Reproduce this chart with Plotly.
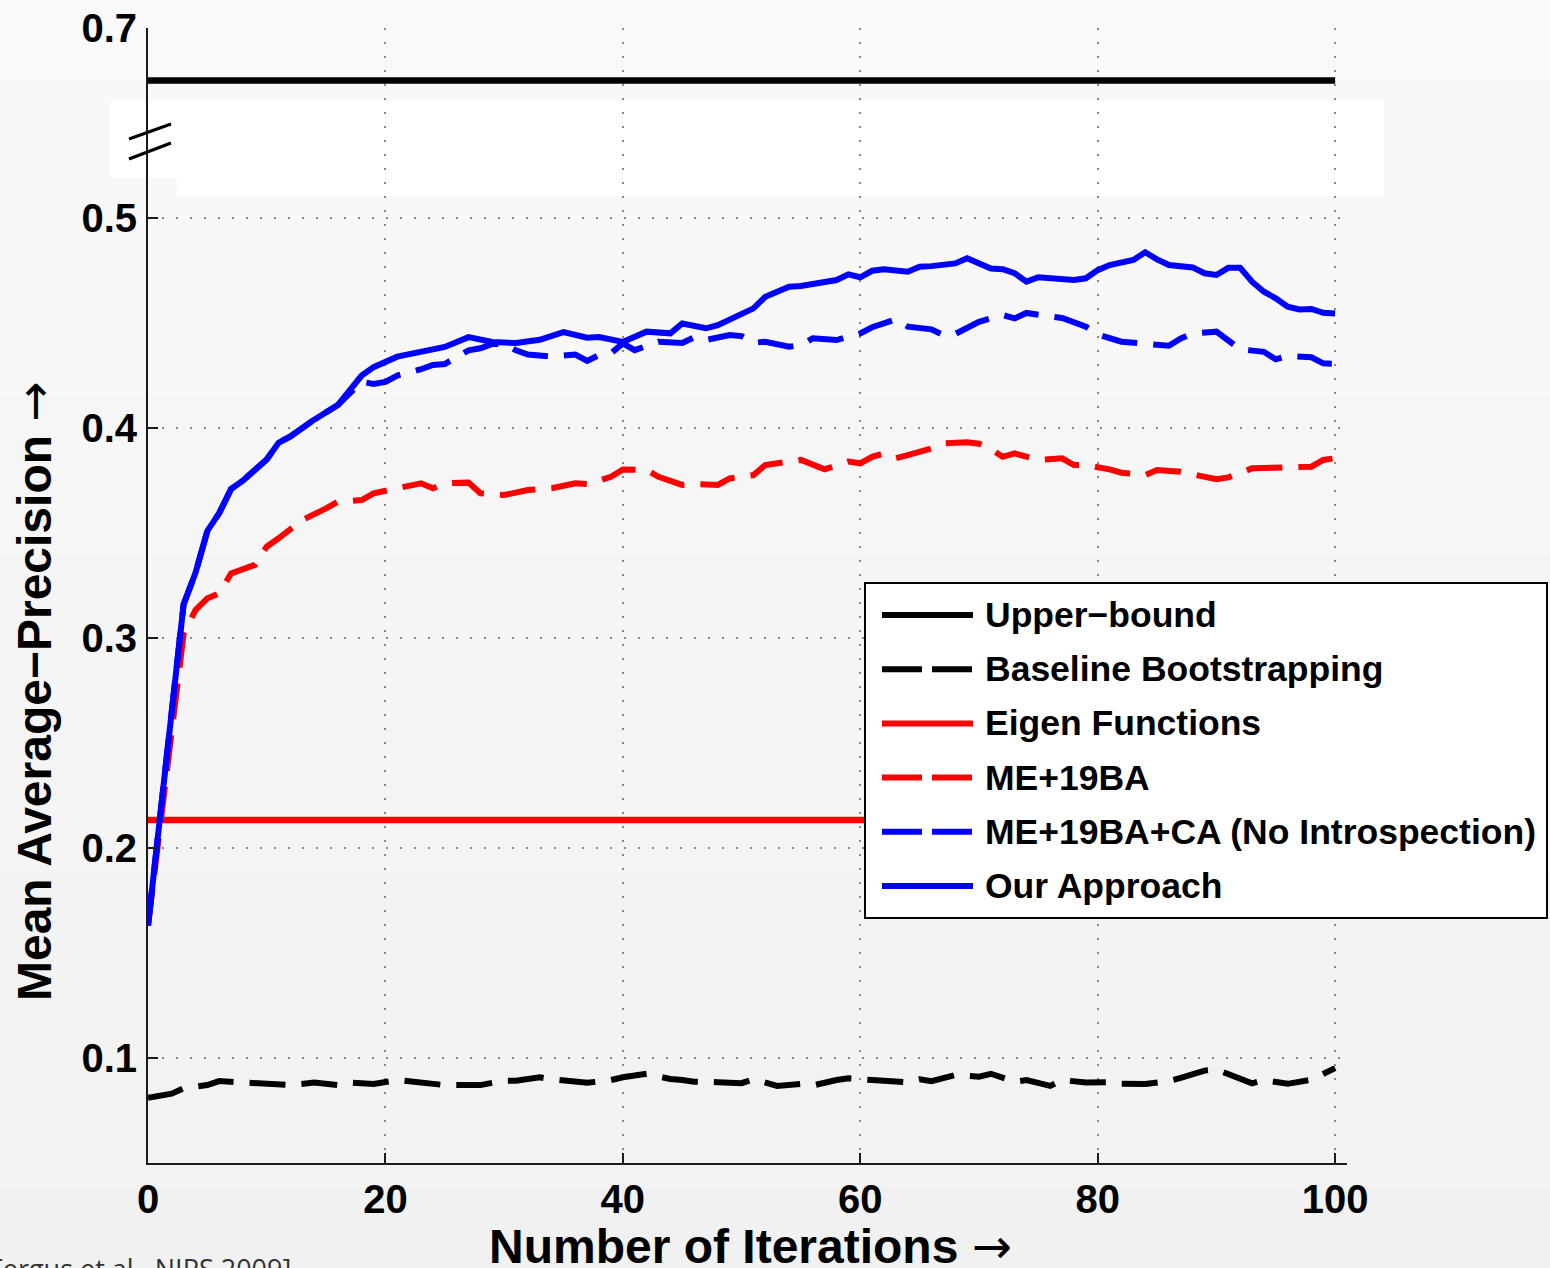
import plotly.graph_objects as go

# ---------------------------------------------------------------- data
iters_ours = [0, 3, 4, 5, 6, 7, 8, 10, 11, 12, 14, 16, 18, 19, 21, 25, 27, 29, 31, 33,
              35, 37, 38, 40, 42, 44, 45, 47, 48, 51, 52, 54, 55, 58, 59, 60, 61, 62, 64,
              65, 66, 68, 69, 71, 72, 73, 74, 75, 78, 79, 80, 81, 83, 84, 85, 86, 88, 89,
              90, 91, 92, 93, 94, 95, 96, 97, 98, 99, 100]
map_ours = [0.163, 0.316, 0.331, 0.351, 0.3595, 0.371, 0.375, 0.385, 0.393, 0.396, 0.404,
            0.411, 0.425, 0.429, 0.434, 0.4386, 0.4433, 0.441, 0.4405, 0.442, 0.4457, 0.443,
            0.4433, 0.441, 0.4459, 0.4451, 0.4498, 0.4475, 0.449, 0.457, 0.4625, 0.4673,
            0.4676, 0.4705, 0.4732, 0.4718, 0.4749, 0.4756, 0.4744, 0.4768, 0.4771, 0.4784,
            0.4808, 0.476, 0.4756, 0.4737, 0.4697, 0.4718, 0.4705, 0.4713, 0.4752, 0.4776,
            0.48, 0.4837, 0.4803, 0.4776, 0.4765, 0.4737, 0.4729, 0.4763, 0.4763, 0.4697,
            0.4649, 0.4618, 0.4578, 0.4565, 0.4567, 0.4549, 0.4546]

iters_ca = [0, 3, 4, 5, 6, 7, 8, 10, 11, 12, 14, 16, 18, 19, 20, 21, 23, 24, 25, 27, 28,
            29, 30, 31, 32, 34, 36, 37, 38, 39, 40, 41, 43, 45, 46, 47, 49, 50, 51, 52, 54,
            55, 56, 58, 60, 61, 63, 64, 66, 67, 68, 70, 72, 73, 74, 76, 77, 79, 80, 82, 83,
            85, 86, 87, 88, 90, 91, 92, 94, 95, 96, 97, 98, 99, 100]
map_ca = [0.163, 0.316, 0.331, 0.351, 0.3595, 0.371, 0.375, 0.385, 0.393, 0.396, 0.404,
          0.411, 0.422, 0.421, 0.422, 0.425, 0.428, 0.430, 0.4305, 0.437, 0.438, 0.440,
          0.440, 0.437, 0.435, 0.434, 0.435, 0.432, 0.4348, 0.4356, 0.4403, 0.4371, 0.4411,
          0.4405, 0.4432, 0.4419, 0.4443, 0.4438, 0.4406, 0.4411, 0.4387, 0.4395, 0.4427,
          0.4419, 0.4451, 0.448, 0.4518, 0.4483, 0.447, 0.4443, 0.4448, 0.4506, 0.4538,
          0.4522, 0.4548, 0.4533, 0.4524, 0.4483, 0.4445, 0.4411, 0.4406, 0.4392, 0.4392,
          0.4427, 0.4451, 0.4459, 0.4419, 0.4375, 0.4363, 0.4327, 0.4343, 0.434, 0.4337,
          0.4308, 0.4305]

iters_me = [0, 3, 4, 5, 6, 7, 9, 10, 11, 13, 15, 16, 18, 19, 21, 23, 24, 25, 27, 28, 30,
            32, 34, 36, 37, 39, 40, 42, 43, 45, 46, 48, 49, 51, 52, 54, 55, 57, 59, 60, 61,
            62, 63, 64, 66, 67, 69, 70, 71, 72, 73, 75, 77, 78, 79, 81, 82, 84, 85, 87, 89,
            90, 91, 93, 96, 98, 99, 100]
map_me = [0.163, 0.302, 0.3133, 0.3189, 0.3213, 0.3308, 0.3348, 0.3435, 0.3475, 0.3562,
          0.3617, 0.3649, 0.3657, 0.3689, 0.3713, 0.3737, 0.3713, 0.3737, 0.374, 0.3689,
          0.3681, 0.3705, 0.3713, 0.3737, 0.3733, 0.3768, 0.3803, 0.380, 0.3768, 0.3729,
          0.3733, 0.3729, 0.376, 0.3776, 0.3824, 0.384, 0.3848, 0.3803, 0.384, 0.3832,
          0.3863, 0.3879, 0.3856, 0.3871, 0.3903, 0.3927, 0.3932, 0.3925, 0.390, 0.3863,
          0.3879, 0.3848, 0.3856, 0.3824, 0.3824, 0.3803, 0.3787, 0.3776, 0.380, 0.3792,
          0.3768, 0.3756, 0.3765, 0.3808, 0.3813, 0.3816, 0.3848, 0.3856]

iters_base = [0, 2, 3, 5, 6, 8, 10, 12, 14, 16, 17, 19, 21, 22, 23, 25, 28, 30, 31, 33, 34,
              36, 37, 39, 40, 42, 44, 45, 46, 48, 50, 51, 53, 55, 56, 58, 59, 61, 64, 65,
              66, 68, 70, 71, 73, 74, 76, 77, 79, 81, 82, 84, 86, 87, 89, 90, 92, 93, 94,
              96, 98, 100]
map_base = [0.081, 0.083, 0.0856, 0.0871, 0.089, 0.0883, 0.0876, 0.0871, 0.0883, 0.0871,
            0.0883, 0.0876, 0.0895, 0.089, 0.0887, 0.0871, 0.0871, 0.0892, 0.0892, 0.0908,
            0.0899, 0.0887, 0.0882, 0.0895, 0.0908, 0.0925, 0.090, 0.0895, 0.0887, 0.0885,
            0.088, 0.0899, 0.0867, 0.0876, 0.0869, 0.0895, 0.0903, 0.0895, 0.0885, 0.0899,
            0.089, 0.0919, 0.0911, 0.0925, 0.0887, 0.0895, 0.0867, 0.0895, 0.0883, 0.0885,
            0.0877, 0.0876, 0.089, 0.0905, 0.094, 0.0945, 0.090, 0.0879, 0.0895, 0.0877,
            0.0897, 0.0952]

upper_bound = 0.675
eigen_functions = 0.2133

x_ticks = [0, 20, 40, 60, 80, 100]
y_ticks = [0.1, 0.2, 0.3, 0.4, 0.5, 0.7]
y_tick_labels = ["0.1", "0.2", "0.3", "0.4", "0.5", "0.7"]

legend_labels = ["Upper\u2212bound", "Baseline Bootstrapping", "Eigen Functions",
                 "ME+19BA", "ME+19BA+CA (No Introspection)", "Our Approach"]

# ---------------------------------------------------------------- broken y axis
# values above the break are shifted down so that 0.7 sits just above 0.5
BREAK_FROM = 0.55
BREAK_SHIFT = 0.1095


def to_axis(v):
    return v - BREAK_SHIFT if v > BREAK_FROM else v


# ---------------------------------------------------------------- layout helpers
W, H = 1550, 1268
L, R, T, B = 148, 203, 28, 105
PW, PH = W - L - R, H - T - B


def px_x(px):
    return (px - L) / PW


def px_y(py):
    return (H - B - py) / PH


FONT = "Liberation Sans, Arial, sans-serif"
ARROW = '<span style="font-family:DejaVu Sans;font-weight:normal">\u2192</span>'
BLUE, RED, BLACK = "#0000ff", "#ff0000", "#000000"
DASH = "36px,16px"

fig = go.Figure()


def add_line(xs, ys, color, width, dash="solid"):
    fig.add_trace(go.Scatter(
        x=xs, y=[to_axis(v) for v in ys], mode="lines",
        line=dict(color=color, width=width, dash=dash),
        showlegend=False, hoverinfo="skip"))


add_line([0, 100], [eigen_functions] * 2, RED, 6.5)
add_line(iters_base, map_base, BLACK, 6, DASH)
add_line(iters_me, map_me, RED, 6, DASH)
add_line(iters_ca, map_ca, BLUE, 6, DASH)
add_line(iters_ours, map_ours, BLUE, 6)
add_line([0, 100], [upper_bound] * 2, BLACK, 6.5)

shapes = []

# soft vertical gradient behind the whole figure
n_bands = 16
for k in range(n_bands):
    y0 = k * H / n_bands
    y1 = (k + 1) * H / n_bands + 1
    c = round(249 - 8 * k / (n_bands - 1))
    shapes.append(dict(type="rect", xref="paper", yref="paper", layer="below",
                       x0=px_x(0), x1=px_x(W), y0=px_y(y1), y1=px_y(y0),
                       fillcolor=f"rgb({c},{c},{c})", line=dict(width=0)))

# white strip marking the axis break
for (x0, x1, y0, y1) in [(110, 178, 101, 178), (177, 1384, 101, 196)]:
    shapes.append(dict(type="rect", xref="paper", yref="paper", layer="between",
                       x0=px_x(x0), x1=px_x(x1), y0=px_y(y1), y1=px_y(y0),
                       fillcolor="#ffffff", line=dict(width=0)))

# break marks on the y axis
for (ya, yb) in [(139, 124), (159, 143)]:
    shapes.append(dict(type="line", xref="paper", yref="paper", layer="above",
                       x0=px_x(129), y0=px_y(ya), x1=px_x(171), y1=px_y(yb),
                       line=dict(color=BLACK, width=3)))

# legend box
shapes.append(dict(type="rect", xref="paper", yref="paper", layer="above",
                   x0=px_x(865), x1=px_x(1547), y0=px_y(918), y1=px_y(583),
                   fillcolor="#ffffff", line=dict(color=BLACK, width=2)))

legend_styles = [(BLACK, "solid"), (BLACK, "40px,10px"), (RED, "solid"),
                 (RED, "40px,10px"), (BLUE, "40px,10px"), (BLUE, "solid")]
row0, row_step = 615, 54.2
annotations = []
for k, (label, (color, dash)) in enumerate(zip(legend_labels, legend_styles)):
    yy = row0 + k * row_step
    shapes.append(dict(type="line", xref="paper", yref="paper", layer="above",
                       x0=px_x(882), x1=px_x(973), y0=px_y(yy), y1=px_y(yy),
                       line=dict(color=color, width=6, dash=dash)))
    annotations.append(dict(xref="paper", yref="paper", x=px_x(983), y=px_y(yy),
                            xanchor="left", yanchor="middle", showarrow=False,
                            text=label,
                            font=dict(family=FONT, size=35.5, color=BLACK, weight="bold")))

annotations += [
    dict(xref="paper", yref="paper", x=px_x(750), y=px_y(1246), xanchor="center",
         yanchor="middle", showarrow=False, text="Number of Iterations " + ARROW,
         font=dict(family=FONT, size=48, color=BLACK, weight="bold")),
    dict(xref="paper", yref="paper", x=px_x(34), y=px_y(691), xanchor="center",
         yanchor="middle", showarrow=False, textangle=-90,
         text="Mean Average\u2212Precision " + ARROW,
         font=dict(family=FONT, size=48, color=BLACK, weight="bold")),
    dict(xref="paper", yref="paper", x=px_x(293), y=px_y(1268), xanchor="right",
         yanchor="middle", showarrow=False, text="[Fergus et al., NIPS 2009]",
         font=dict(family="Open Sans, sans-serif", size=27, color="#333333")),
]

grid = dict(showgrid=True, gridcolor="#888888", gridwidth=1.5, griddash="2px,12px",
            zeroline=False, showline=True, linecolor="#1a1a1a", linewidth=2,
            ticks="inside", ticklen=10, tickwidth=2, tickcolor="#1a1a1a",
            automargin=False,
            tickfont=dict(family=FONT, size=40, color=BLACK, weight="bold"))

fig.update_layout(
    width=W, height=H, autosize=False,
    margin=dict(l=L, r=R, t=T, b=B),
    paper_bgcolor="#f5f5f5", plot_bgcolor="rgba(0,0,0,0)",
    xaxis=dict(range=[0, 101], tickvals=x_ticks, ticklabelstandoff=0, **grid),
    yaxis=dict(range=[0.05, to_axis(0.7)], tickvals=[to_axis(v) for v in y_ticks],
               ticktext=y_tick_labels, ticklabelstandoff=1, **grid),
    shapes=shapes, annotations=annotations,
)

fig.write_html("out.html")
